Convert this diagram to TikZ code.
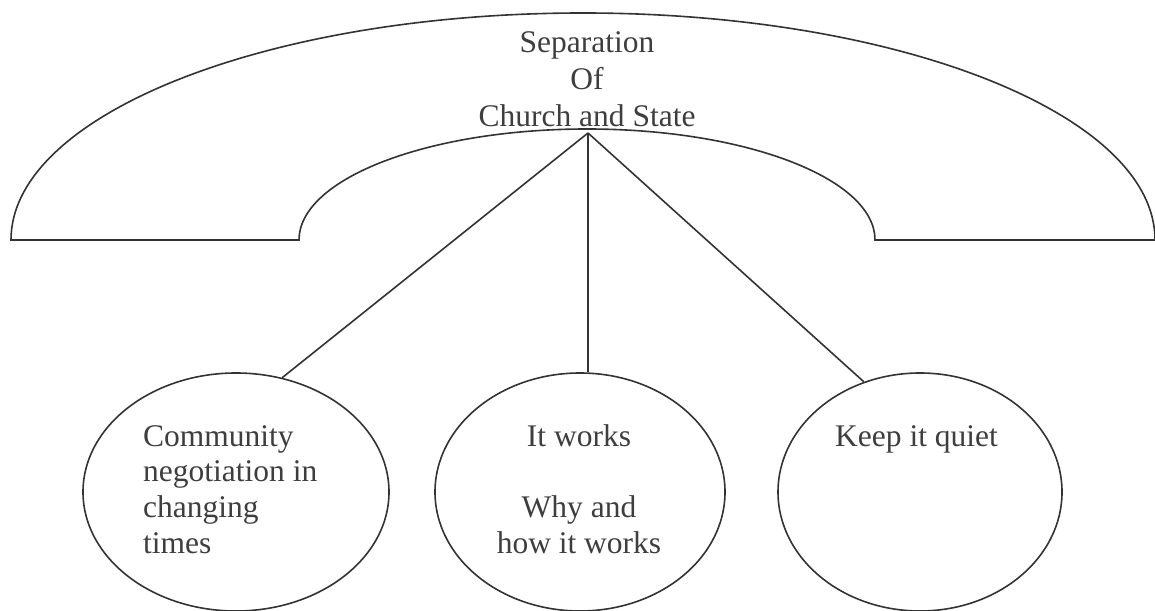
\documentclass[tikz,border=0pt]{standalone}
\usepackage{fontspec}
\setmainfont{Liberation Serif}
\usetikzlibrary{shapes.geometric}
\definecolor{ink}{HTML}{333333}
\definecolor{txt}{HTML}{3E3E3E}
\begin{document}
\begin{tikzpicture}[x=1pt,y=1pt,
  stroke/.style={draw=ink,line width=1.6pt},
  bubble/.style={stroke,ellipse,inner sep=0pt},
  label/.style={text=txt,inner sep=0pt,font=\fontsize{31.5}{35.6}\selectfont}]
\useasboundingbox (0,0) rectangle (1155,610);
% arch
\draw[stroke,line join=miter] (11,370) -- (299,370)
  arc[start angle=180,end angle=0,x radius=288,y radius=111]
  -- (1155,370)
  arc[start angle=0,end angle=180,x radius=572,y radius=227] -- cycle;
% title (base anchor = last line's baseline)
\node[label,anchor=base,align=center,font=\fontsize{31.5}{37}\selectfont] (title) at (587,483)
  {Separation\\Of\\Church and State};
\coordinate (apex) at (588,477);
% bubbles
\node[bubble,minimum width=306pt,minimum height=238pt] (e1) at (236,118) {};
\node[bubble,minimum width=290pt,minimum height=238pt] (e2) at (580,118) {};
\node[bubble,minimum width=284pt,minimum height=238pt] (e3) at (920,118) {};
% texts
\node[label,anchor=base west,align=left] (t1) at (143,57)
  {Community\\negotiation in\\changing\\times};
\node[label,anchor=base,align=center] (t2) at (579,57)
  {It works\\[35.6pt]Why and\\how it works};
\node[label,anchor=base west] (t3) at (835,163) {Keep it quiet};
% connectors
\draw[stroke] (apex) -- (e1.68);
\draw[stroke] (apex) -- (apex |- e2.north);
\draw[stroke] (apex) -- (e3.117);
\end{tikzpicture}
\end{document}
